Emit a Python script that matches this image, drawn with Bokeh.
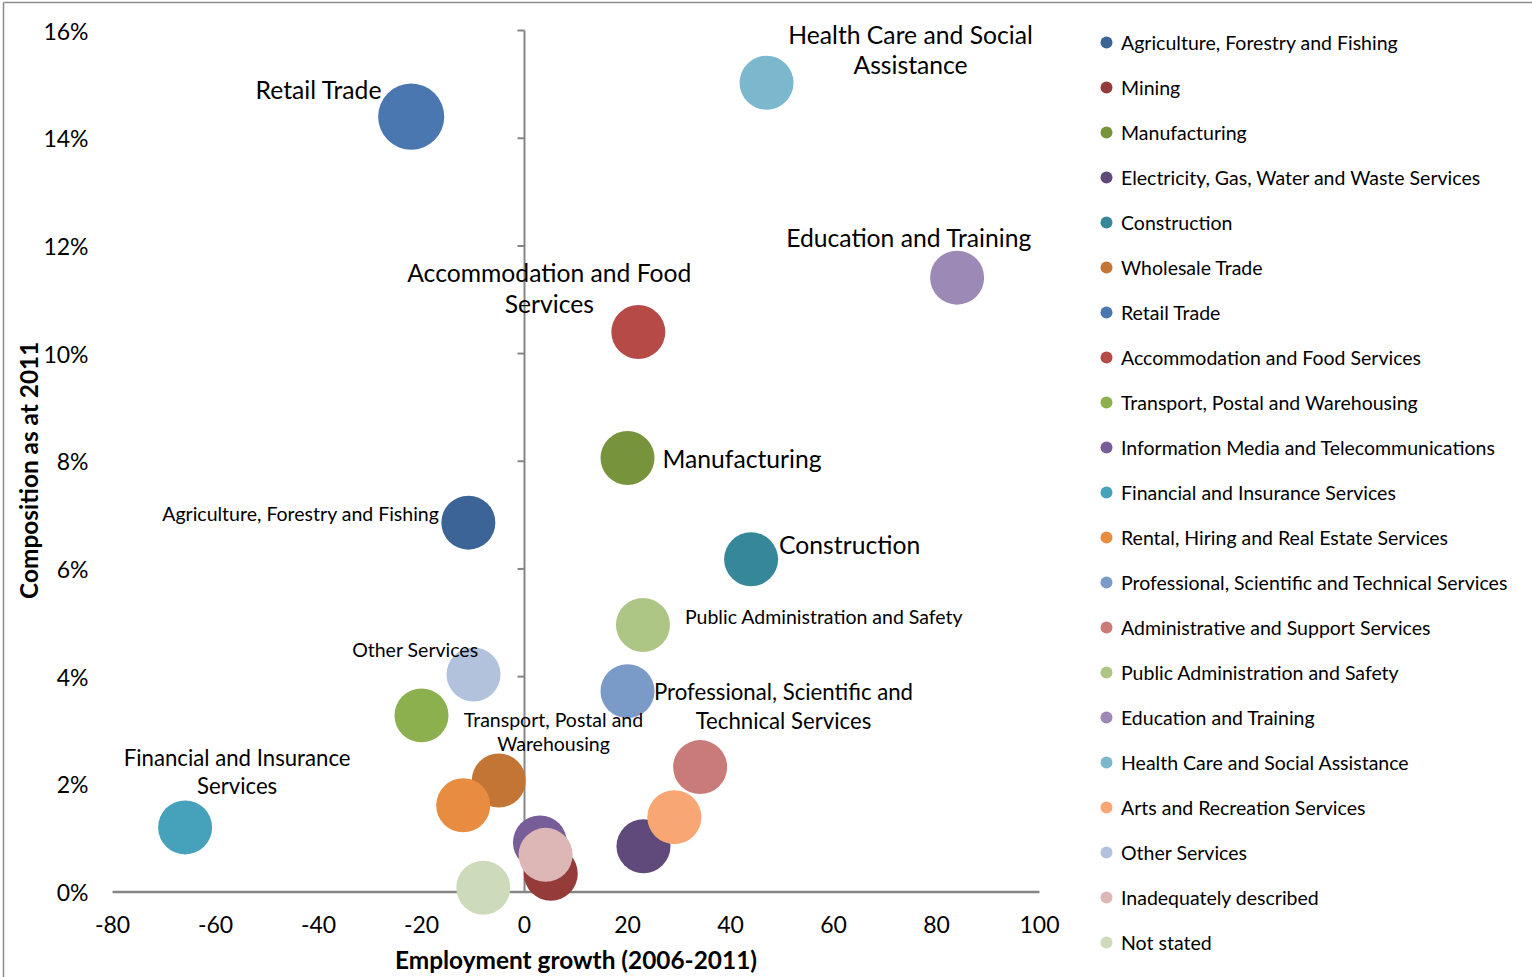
import math
from bokeh.plotting import figure
from bokeh.models import (ColumnDataSource, FixedTicker, NumeralTickFormatter, Range1d,
                          Legend, LegendItem)
from bokeh.core.properties import value
from bokeh.embed import file_html
from bokeh.resources import INLINE

# ---------------- data ----------------
categories = [
    "Agriculture, Forestry and Fishing", "Mining", "Manufacturing",
    "Electricity, Gas, Water and Waste Services", "Construction", "Wholesale Trade",
    "Retail Trade", "Accommodation and Food Services", "Transport, Postal and Warehousing",
    "Information Media and Telecommunications", "Financial and Insurance Services",
    "Rental, Hiring and Real Estate Services", "Professional, Scientific and Technical Services",
    "Administrative and Support Services", "Public Administration and Safety",
    "Education and Training", "Health Care and Social Assistance",
    "Arts and Recreation Services", "Other Services", "Inadequately described", "Not stated",
]
growth = [-10.9, 5.1, 20.0, 23.1, 44.0, -5.0, -22.0, 22.1, -20.0, 3.0, -65.9,
          -11.9, 20.0, 34.1, 23.0, 84.0, 47.0, 29.1, -9.9, 4.1, -8.0]
composition = [0.0686, 0.0034, 0.0806, 0.0085, 0.0618, 0.0207, 0.1440, 0.1040, 0.0328, 0.0092,
               0.0120, 0.0161, 0.0373, 0.0232, 0.0496, 0.1141, 0.1503, 0.0139, 0.0404, 0.0069, 0.0008]
bubble_value = [1.0, 1.0, 1.0, 1.0, 1.0, 1.0, 1.5, 1.0, 1.0, 1.0, 1.0,
                1.0, 1.0, 1.0, 1.0, 1.0, 1.0, 1.0, 1.0, 1.0, 1.0]
colors = ["#3C6496", "#953B39", "#77933C", "#604A7B", "#37879B", "#C27535", "#4A77AF",
          "#B54A47", "#8DB04F", "#785E99", "#46A1BA", "#E88C41", "#7A9BC8", "#C97B7A",
          "#AEC685", "#9C89B5", "#7CB8CD", "#F7A674", "#B2C2DD", "#DDB6B6", "#CEDBBA"]
x_ticks = [-80, -60, -40, -20, 0, 20, 40, 60, 80, 100]
x_tick_labels = ["-80", "-60", "-40", "-20", "0", "20", "40", "60", "80", "100"]
y_ticks = [0.0, 0.02, 0.04, 0.06, 0.08, 0.10, 0.12, 0.14, 0.16]
x_title = "Employment growth (2006-2011)"
y_title = "Composition as at 2011"

# data-label text and placement (screen px offsets from the bubble centre)
labels = {
    "Retail Trade": ("Retail Trade", -29, -27, "right", "big"),
    "Health Care and Social Assistance": ("Health Care and Social\nAssistance", 144, -33, "center", "big"),
    "Education and Training": ("Education and Training", -48, -40, "center", "big"),
    "Accommodation and Food Services": ("Accommodation and Food\nServices", -89, -44, "center", "big"),
    "Manufacturing": ("Manufacturing", 35, 0, "left", "big"),
    "Agriculture, Forestry and Fishing": ("Agriculture, Forestry and Fishing", -29, -9, "right", "small"),
    "Construction": ("Construction", 28, -15, "left", "big"),
    "Public Administration and Safety": ("Public Administration and Safety", 42, -8, "left", "small"),
    "Other Services": ("Other Services", 5, -25, "right", "small"),
    "Professional, Scientific and Technical Services": ("Professional, Scientific and\nTechnical Services", 156, 15, "center", "mid"),
    "Transport, Postal and Warehousing": ("Transport, Postal and\nWarehousing", 132, 16, "center", "small"),
    "Financial and Insurance Services": ("Financial and Insurance\nServices", 52, -56, "center", "mid"),
}

FONT = "Lato"
LABEL_SIZES = {"big": "24.7px", "mid": "22.2px", "small": "19.5px"}
LEG, TICK, TITLE = "19.5px", "23px", "24.4px"
AXIS_GREY = "#868686"
BORDER_GREY = "#8c8c8c"

X0, X1, Y0, Y1 = -80, 100, 0.0, 0.16
# pixel layout: axis area (-80..100, 0..16%) spans x 112..1039, y 30..891.5
AX_L, AX_R, AX_T, AX_B = 112, 1039, 30, 891.5
W, H = 1532, 977
ppu_x = (AX_R - AX_L) / (X1 - X0)
ppu_y = (AX_B - AX_T) / (Y1 - Y0)
# the frame covers the whole canvas; axes are pinned Excel-style inside it
x_lo = X0 - AX_L / ppu_x
x_hi = X1 + (W - AX_R) / ppu_x
y_lo = Y0 - (H - AX_B) / ppu_y
y_hi = Y1 + AX_T / ppu_y

def px_x(px):
    return x_lo + px / ppu_x

def px_y(py):
    return y_hi - py / ppu_y

p = figure(width=W, height=H, x_range=Range1d(x_lo, x_hi), y_range=Range1d(y_lo, y_hi),
           output_backend="svg", toolbar_location=None, min_border=0)
p.grid.visible = False
p.outline_line_color = None
p.background_fill_color = "white"
p.border_fill_color = "white"

xa = p.xaxis[0]
xa.fixed_location = Y0
xa.ticker = FixedTicker(ticks=x_ticks)
xa.major_label_overrides = {t: s for t, s in zip(x_ticks, x_tick_labels)}
xa.axis_line_color = None
xa.major_tick_line_color = None
xa.minor_tick_line_color = None
xa.major_tick_out = 0
xa.major_tick_in = 0
xa.major_label_text_font = FONT
xa.major_label_text_font_size = TICK
xa.major_label_text_color = "black"
xa.major_label_standoff = 24

ya = p.yaxis[0]
ya.fixed_location = X0
ya.ticker = FixedTicker(ticks=y_ticks)
ya.formatter = NumeralTickFormatter(format="0%")
ya.axis_line_color = None
ya.major_tick_line_color = None
ya.minor_tick_line_color = None
ya.major_tick_out = 0
ya.major_tick_in = 0
ya.major_label_text_font = FONT
ya.major_label_text_font_size = TICK
ya.major_label_text_color = "black"
ya.major_label_standoff = 24

# chart-area border (top and left edges visible in the reference)
p.segment(x0=[px_x(3), px_x(3)], y0=[px_y(2), px_y(2)], x1=[px_x(3), px_x(W)], y1=[px_y(H), px_y(2)],
          line_color=BORDER_GREY, line_width=1.5)

# axis lines (drawn under the bubbles) and y tick marks at x = 0
p.segment(x0=[X0], y0=[Y0], x1=[X1], y1=[Y0], line_color=AXIS_GREY, line_width=2.5)
p.segment(x0=[0], y0=[Y0], x1=[0], y1=[Y1], line_color=AXIS_GREY, line_width=2)
tick_dx = 7 / ppu_x
p.segment(x0=[0] * len(y_ticks), y0=y_ticks, x1=[-tick_dx] * len(y_ticks), y1=y_ticks,
          line_color=AXIS_GREY, line_width=2)

# axis titles
p.text(x=[(X0 + X1) / 2], y=[Y0], text=[x_title], y_offset=67.5, text_align="center",
       text_baseline="middle", text_font=value(FONT), text_font_size=TITLE,
       text_font_style="bold", text_color="black")
p.text(x=[X0], y=[(Y0 + Y1) / 2], text=[y_title], x_offset=-84, y_offset=9, angle=math.pi / 2,
       text_align="center", text_baseline="middle", text_font=value(FONT),
       text_font_size=TITLE, text_font_style="bold", text_color="black")

# bubbles
BASE_D = 54
src = ColumnDataSource(dict(
    x=growth, y=composition, name=categories, color=colors,
    size=[BASE_D * v ** 0.5 for v in bubble_value],
))
r = p.scatter("x", "y", size="size", source=src, fill_color="color", line_color=None)

# data labels
for cat, (txt, dx, dy, align, kind) in labels.items():
    i = categories.index(cat)
    p.text(x=[growth[i]], y=[composition[i]], text=[txt], x_offset=dx, y_offset=dy,
           text_align=align, text_baseline="middle", text_font=value(FONT),
           text_font_size=LABEL_SIZES[kind], text_color="black", text_line_height=1.05)

# legend
items = [LegendItem(label=c, renderers=[r], index=i) for i, c in enumerate(categories)]
n = len(items)
GH, SP = 30, 15
leg_h = n * GH + (n - 1) * SP
LEG_X, LEG_TOP = 1091, 27
legend = Legend(items=items, location=(LEG_X, H - LEG_TOP - leg_h),
                glyph_width=30, glyph_height=GH, spacing=SP, padding=0, margin=0,
                label_standoff=-6, border_line_color=None, background_fill_alpha=0,
                label_text_font=FONT, label_text_font_size=LEG, label_text_color="black")
p.add_layout(legend)

open("out.html", "w").write(file_html(p, INLINE))
